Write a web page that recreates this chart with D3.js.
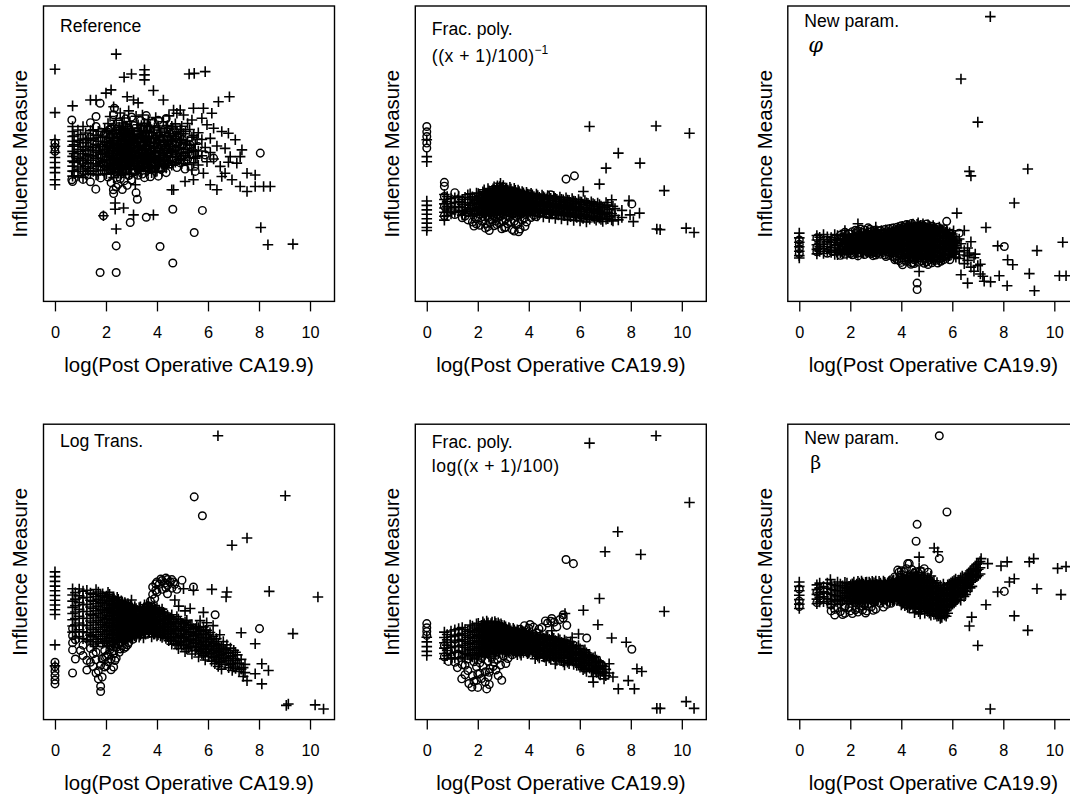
<!DOCTYPE html>
<html>
<head>
<meta charset="utf-8">
<script src="https://cdn.jsdelivr.net/npm/d3@7"></script>
<style>
  html, body { margin: 0; padding: 0; background: #fff; }
  svg { display: block; }
  text { font-family: "Liberation Sans", Arial, Helvetica, sans-serif; fill: #000; }
</style>
</head>
<body>
<svg id="chart" width="1070" height="795"></svg>
<script>
// Influence of each patient on six model fits, plotted against log(post-operative CA19.9).
// Each row is one x position followed by the influence values (0-100 scale) observed there.
// "+" = event, "o" = censored.

const xTicks = [0, 2, 4, 6, 8, 10];
const xLabel = "log(Post Operative CA19.9)";
const yLabel = "Influence Measure";
const panelNames = ["Reference", "Frac. poly.", "New param.", "Log Trans.", "Frac. poly.", "New param."];

// ---- Reference ----
const refPlus = [
  [0, 78.6, 63.9, 54.7, 52.5, 50.4, 48.7, 47.0, 45.3, 43.6, 41.2, 39.5],
  [0.69, 66.2, 59.2, 57.5, 55.8, 54.2, 52.5, 50.8, 49.1, 47.5, 45.8, 44.1, 42.4],
  [1.1, 59.2, 55.0, 52.3, 50.0, 48.2, 46.5, 44.0, 42.0],
  [1.39, 68.2, 57.8, 54.6, 51.2, 49.5, 47.8, 45.0, 43.2],
  [1.61, 68.2, 56.3, 53.2, 50.6, 48.5, 46.2, 42.8],
  [1.79, 55.5, 52.4, 49.8, 47.3, 44.5],
  [1.9, 29.0],
  [1.95, 58.4, 54.1, 51.3, 48.0, 45.6, 43.1],
  [2.0, 70.5],
  [2.08, 60.2, 55.4, 52.8, 50.1, 47.7, 44.8],
  [2.16, 62.6],
  [2.2, 71.6, 57.8, 53.5, 49.5, 46.8, 43.5],
  [2.3, 65.9, 59.6, 55.2, 51.7, 48.3, 45.1, 41.9],
  [2.36, 33.3, 31.2],
  [2.4, 83.7, 61.3, 56.9, 52.6, 49.4, 46.2, 24.5],
  [2.48, 58.1, 54.4, 50.8, 47.1, 43.6],
  [2.56, 63.8, 57.2, 53.3, 49.8, 46.5, 42.7],
  [2.64, 60.4, 55.7, 51.9, 48.6, 45.3],
  [2.69, 31.6],
  [2.71, 75.9, 62.1, 56.3, 52.4, 49.2, 44.7],
  [2.77, 59.3, 54.8, 50.5, 47.9, 43.4],
  [2.83, 69.3, 57.8, 53.1, 49.7, 46.1],
  [2.89, 64.5, 55.9, 51.6, 48.8, 45.0],
  [2.94, 60.9, 54.2, 50.3, 47.4],
  [3.0, 77.0, 58.6, 53.7, 49.9, 46.8, 43.3],
  [3.08, 68.2, 56.4, 52.2, 48.4, 29.3],
  [3.15, 39.5],
  [3.18, 62.7, 55.1, 51.0, 47.5, 44.6],
  [3.26, 67.2, 59.8, 53.9, 49.1, 45.9],
  [3.35, 57.6, 52.7, 48.3, 44.1],
  [3.43, 63.1, 55.5, 51.4, 47.2],
  [3.51, 78.4, 76.7, 75.0, 60.3, 54.8, 50.2, 46.5],
  [3.58, 57.9, 52.9, 49.3],
  [3.66, 61.5, 55.8, 51.1, 47.9, 44.3],
  [3.74, 59.1, 53.6, 49.6, 45.8],
  [3.86, 71.4, 57.1, 52.3, 48.7, 29.3],
  [3.95, 62.2, 55.4, 50.7, 46.9, 43.8],
  [4.05, 59.4, 53.8, 49.5, 45.6],
  [4.15, 57.2, 52.6, 48.2],
  [4.25, 68.2, 60.8, 54.5, 50.1, 46.3],
  [4.36, 58.6, 53.1, 49.4, 45.2],
  [4.47, 62.8, 56.2, 51.8, 47.6],
  [4.58, 59.3, 54.6, 50.4, 46.1, 37.8],
  [4.65, 64.8, 55.9, 37.8],
  [4.78, 63.7, 57.4, 52.8, 49.1],
  [4.91, 64.8, 58.2, 53.9, 48.3],
  [5.04, 63.1, 56.8, 51.5, 47.8],
  [5.1, 40.6],
  [5.2, 60.2, 54.3, 50.5, 46.4],
  [5.26, 77.0],
  [5.37, 61.4, 55.6, 51.2, 44.5],
  [5.43, 65.4, 41.2],
  [5.46, 77.2],
  [5.5, 53.2, 48.5],
  [5.62, 57.1, 50.9, 46.2],
  [5.76, 62.0, 54.8, 49.3],
  [5.82, 65.4, 43.4],
  [5.89, 77.8, 52.1],
  [5.96, 59.8, 47.3],
  [6.09, 39.5, 55.2, 50.4],
  [6.15, 63.7],
  [6.22, 58.6, 48.2],
  [6.35, 37.8, 52.6],
  [6.41, 67.6],
  [6.48, 45.7],
  [6.54, 57.5, 42.3],
  [6.67, 43.4, 51.8],
  [6.8, 56.9, 47.1],
  [6.84, 69.3],
  [6.87, 49.0],
  [6.94, 41.2],
  [7.07, 54.7],
  [7.13, 46.8],
  [7.26, 49.0, 38.9],
  [7.33, 51.3],
  [7.53, 37.2, 43.4],
  [7.85, 42.8, 38.9],
  [8.07, 25.0],
  [8.18, 38.9],
  [8.35, 19.2],
  [8.44, 38.9],
  [9.33, 19.4],
  [0.75, 56.0, 53.0, 50.0, 47.0, 44.0],
  [0.9, 58.0, 54.5, 51.5, 48.5, 45.5, 42.5],
  [1.0, 56.5, 53.8, 50.8, 47.6, 44.8],
  [1.2, 57.0, 53.7, 51.0, 48.9, 45.6, 43.1],
  [1.3, 55.2, 52.5, 49.8, 46.9, 44.2],
  [1.5, 58.1, 55.1, 52.0, 49.2, 46.7, 44.0],
  [1.7, 57.6, 54.2, 51.1, 48.4, 45.8, 43.0],
  [1.87, 56.0, 53.2, 50.6, 47.1, 44.3],
  [2.02, 57.4, 54.0, 51.4, 48.9, 46.0, 43.2],
  [2.14, 55.6, 52.1, 49.0, 45.7],
  [2.25, 56.7, 54.4, 50.9, 47.7, 44.6],
  [2.35, 57.9, 53.6, 50.2, 47.0, 43.9],
  [2.44, 55.2, 51.6, 48.0, 44.8],
  [2.52, 59.0, 55.8, 52.0, 48.8, 45.4],
  [2.6, 56.6, 53.0, 49.6, 46.3, 43.1],
  [2.67, 58.6, 54.1, 50.6, 47.3],
  [2.74, 57.1, 53.4, 50.0, 46.2],
  [2.8, 55.6, 52.2, 48.5, 44.9],
  [2.86, 58.4, 54.6, 50.9, 47.6],
  [2.91, 56.9, 53.0, 49.4, 46.0, 43.0],
  [2.97, 55.6, 51.9, 48.3, 44.8],
  [3.04, 57.8, 54.6, 50.7, 47.5],
  [3.13, 56.0, 52.7, 49.3, 45.6],
  [3.22, 58.6, 54.0, 50.4, 46.7, 43.4],
  [3.3, 56.6, 52.4, 48.6, 45.1],
  [3.39, 59.5, 55.2, 50.1, 46.5],
  [3.47, 57.3, 52.8, 49.0, 45.4],
  [3.55, 55.9, 51.7, 47.8, 44.2],
  [3.62, 59.6, 54.0, 50.2, 46.3],
  [3.7, 57.0, 52.5, 48.4, 44.9],
  [3.79, 55.1, 51.0, 47.2, 43.6],
  [3.9, 58.8, 53.4, 49.0, 45.3],
  [4.0, 56.3, 51.9, 47.6, 44.1],
  [4.1, 58.0, 54.5, 50.3, 46.4],
  [4.2, 55.7, 51.2, 47.4, 44.0],
  [4.3, 57.3, 52.4, 48.7, 45.8],
  [4.41, 59.5, 54.3, 50.1, 46.6],
  [4.52, 56.8, 52.5, 48.8],
  [4.62, 58.7, 54.0, 50.7, 46.9],
  [4.72, 60.1, 55.2, 51.0, 47.1],
  [4.85, 56.7, 52.2, 48.0],
  [4.97, 59.3, 54.7, 50.2, 46.6],
  [5.12, 57.6, 53.3, 49.3],
  [5.28, 58.2, 52.9, 48.6],
  [5.44, 56.2, 50.8, 46.9],
  [5.57, 55.0, 49.0]
];
const refCirc = [
  [0, 53.6, 52.2, 50.8],
  [0.66, 61.4, 41.2],
  [0.69, 40.6],
  [1.1, 53.5, 47.2, 41.3],
  [1.39, 60.5, 55.6, 44.3, 40.5],
  [1.6, 38.0],
  [1.61, 62.6, 59.2, 51.5],
  [1.77, 67.1, 9.8],
  [1.79, 57.3, 48.9, 45.5, 41.8],
  [1.9, 29.0],
  [1.95, 56.8, 50.3],
  [2.08, 53.9, 46.4, 42.1],
  [2.2, 58.5, 51.2, 44.9, 40.2],
  [2.29, 37.8],
  [2.3, 63.2, 54.3, 47.6, 36.5],
  [2.33, 65.4],
  [2.4, 50.6, 43.8, 38.7, 18.8, 9.8],
  [2.48, 60.7, 52.0, 45.9, 39.6],
  [2.56, 55.9, 48.7, 41.5],
  [2.64, 58.2, 50.1, 44.4, 37.9],
  [2.71, 53.7, 46.9, 40.8],
  [2.77, 61.8, 56.5, 48.2],
  [2.83, 51.4, 44.2, 39.3],
  [2.89, 58.8, 47.3, 42.6],
  [2.94, 55.3, 45.7],
  [2.95, 26.7],
  [3.0, 62.4, 51.8, 41.1],
  [3.09, 59.5, 47.8, 43.9],
  [3.18, 57.4, 49.6, 36.8],
  [3.23, 34.6],
  [3.26, 54.6, 42.7],
  [3.35, 61.2, 50.9, 46.3],
  [3.43, 58.1, 53.2, 43.1],
  [3.51, 56.6, 48.1, 41.9],
  [3.58, 62.9, 54.1, 45.2, 28.5],
  [3.66, 58.7, 50.4],
  [3.74, 56.3, 47.4, 42.2],
  [3.86, 60.6, 54.9, 44.8],
  [3.95, 58.2, 49.2],
  [4.05, 61.3, 51.6, 47.3, 42.4],
  [4.12, 18.6],
  [4.15, 55.1, 44.7],
  [4.25, 57.8, 48.9],
  [4.36, 61.9, 51.3, 43.6],
  [4.47, 54.4, 49.8],
  [4.58, 57.1, 52.2],
  [4.62, 31.2, 13.0],
  [4.65, 48.6],
  [4.78, 55.8, 45.3],
  [4.91, 55.8, 50.6, 46.9],
  [5.04, 53.2, 49.4],
  [5.1, 44.8],
  [5.2, 52.8, 48.1],
  [5.37, 49.8],
  [5.46, 23.3],
  [5.5, 44.0],
  [5.62, 52.4],
  [5.78, 30.8],
  [5.89, 49.6],
  [6.22, 48.5],
  [8.05, 50.2],
  [0.8, 49.2, 43.3],
  [1.25, 50.4, 46.0],
  [1.55, 54.0, 47.9],
  [1.9, 52.6, 46.4],
  [2.12, 58.0, 50.0],
  [2.27, 52.1, 45.3],
  [2.45, 56.8, 48.4],
  [2.62, 52.3, 46.0],
  [2.8, 58.9, 50.3],
  [2.98, 54.0, 48.0],
  [3.14, 52.0, 44.0],
  [3.3, 55.6, 49.8],
  [3.45, 51.0, 45.9],
  [3.62, 52.4, 47.6],
  [3.8, 51.5, 46.0],
  [4.0, 54.2],
  [4.2, 52.6, 46.8],
  [4.4, 55.7, 48.0],
  [4.6, 53.6, 47.6],
  [4.8, 51.2],
  [5.0, 54.8, 50.6],
  [5.3, 53.0]
];

// ---- Fractional polynomial, power -1 ----
const fpInvPlus = [
  [0, 54.7, 49.0, 47.3, 34.0, 32.5, 31.0, 29.5, 28.0, 26.5, 25.0, 24.0],
  [0.69, 36.2, 34.5, 33.0, 31.6, 30.2, 28.8, 27.5],
  [1.1, 35.1, 33.4, 31.8, 30.1],
  [1.39, 34.6, 32.9, 30.8, 29.2],
  [1.61, 36.1, 33.5, 31.2],
  [1.79, 35.4, 33.1, 30.6, 28.9],
  [1.95, 36.7, 34.2, 31.9, 29.8],
  [2.08, 35.8, 33.6, 31.4],
  [2.2, 37.1, 34.8, 32.5, 30.4],
  [2.3, 36.3, 33.9, 31.7, 29.5],
  [2.4, 38.2, 35.6, 33.2, 30.9],
  [2.48, 36.9, 34.3, 32.0],
  [2.56, 37.6, 35.2, 33.0, 30.6],
  [2.64, 38.8, 36.1, 33.7, 31.2],
  [2.71, 37.3, 34.9, 32.4],
  [2.77, 39.1, 36.5, 34.1, 31.8, 29.6],
  [2.83, 37.9, 35.4, 32.8],
  [2.89, 40.0, 37.2, 34.6, 32.3, 30.1],
  [2.94, 38.4, 35.8, 33.5],
  [3.0, 39.2, 36.8, 34.2, 31.9],
  [3.09, 38.0, 35.3, 32.9, 30.5],
  [3.18, 37.4, 34.9, 32.6],
  [3.26, 38.6, 36.0, 33.4, 31.0],
  [3.35, 37.1, 34.7, 32.2],
  [3.43, 38.3, 35.5, 33.1, 30.8],
  [3.51, 36.8, 34.4, 32.0],
  [3.58, 37.7, 35.1, 32.7, 30.3],
  [3.66, 36.4, 34.0, 31.6],
  [3.74, 37.2, 34.8, 32.3],
  [3.83, 36.1, 33.7, 31.3],
  [3.91, 36.9, 34.5, 32.1, 29.8],
  [4.0, 35.8, 33.4, 31.0],
  [4.09, 36.6, 34.1, 31.8],
  [4.2, 35.5, 33.2, 30.8],
  [4.3, 36.3, 33.9, 31.5],
  [4.41, 35.2, 32.9, 30.6],
  [4.52, 36.0, 33.6, 31.2],
  [4.62, 35.1, 32.7, 30.3],
  [4.74, 35.8, 33.3, 31.0],
  [4.86, 34.9, 32.5, 30.2],
  [4.98, 35.6, 33.1, 30.8],
  [5.1, 34.6, 32.3, 30.0],
  [5.22, 35.3, 32.9, 30.5],
  [5.35, 34.4, 32.0, 29.8],
  [5.46, 35.1, 32.6, 30.2],
  [5.58, 34.2, 31.8, 29.5],
  [5.7, 34.8, 32.3, 30.0],
  [5.82, 33.9, 31.5, 29.2],
  [5.95, 34.5, 32.0, 29.6],
  [6.07, 33.6, 31.2, 28.8],
  [6.14, 37.2],
  [6.2, 34.1, 31.7, 29.3],
  [6.32, 33.2, 30.8, 28.5],
  [6.38, 59.2],
  [6.45, 33.7, 31.3, 28.9],
  [6.58, 32.8, 30.4, 28.1],
  [6.7, 33.3, 30.9, 28.6],
  [6.77, 39.7],
  [6.83, 32.3, 30.0, 27.7],
  [6.96, 31.9, 29.5],
  [7.03, 45.1],
  [7.1, 32.6, 30.2, 28.0],
  [7.25, 34.4, 29.7, 27.6],
  [7.38, 31.4, 29.1],
  [7.51, 50.2, 27.6],
  [7.65, 30.8, 28.4],
  [7.93, 34.1],
  [7.97, 29.3],
  [8.1, 27.0],
  [8.34, 29.9],
  [8.36, 46.8],
  [8.99, 59.4],
  [9.02, 24.5],
  [9.15, 24.3],
  [9.31, 37.5],
  [10.17, 24.8],
  [10.3, 56.9],
  [10.48, 23.3],
  [0.8, 35.5, 33.8, 32.2, 30.6, 29.0],
  [0.95, 34.8, 33.1, 31.3, 29.6],
  [1.25, 35.6, 33.9, 32.1, 30.4],
  [1.5, 35.2, 33.4, 31.7, 29.9],
  [1.7, 36.4, 34.5, 32.6, 30.5],
  [1.87, 35.0, 33.2, 31.4, 29.4],
  [2.02, 36.5, 34.6, 32.7, 30.7],
  [2.14, 35.2, 33.3, 31.3, 29.2],
  [2.25, 37.8, 35.9, 34.0, 32.1, 30.2],
  [2.35, 36.6, 34.6, 32.5, 30.4],
  [2.44, 37.4, 35.3, 33.3, 31.2, 29.2],
  [2.52, 36.2, 34.1, 32.0, 29.9],
  [2.6, 38.1, 35.9, 33.7, 31.5, 29.4],
  [2.67, 36.9, 34.7, 32.5, 30.3],
  [2.74, 38.4, 36.2, 34.0, 31.8, 29.6],
  [2.8, 37.3, 35.1, 32.9, 30.7],
  [2.86, 38.9, 36.6, 34.3, 32.0, 29.7],
  [2.91, 37.5, 35.2, 33.0, 30.8],
  [2.97, 38.6, 36.3, 34.0, 31.7, 29.4],
  [3.04, 37.5, 35.2, 32.9, 30.6],
  [3.13, 38.4, 36.1, 33.8, 31.5, 29.2],
  [3.22, 37.1, 34.8, 32.5, 30.2],
  [3.3, 38.0, 35.7, 33.4, 31.1, 28.8],
  [3.39, 36.6, 34.3, 32.0, 29.7],
  [3.47, 37.6, 35.3, 33.0, 30.7],
  [3.55, 36.3, 34.0, 31.7, 29.4],
  [3.62, 37.2, 34.9, 32.6, 30.3],
  [3.7, 35.9, 33.6, 31.3, 29.0],
  [3.79, 36.8, 34.5, 32.2, 29.9],
  [3.87, 35.6, 33.3, 31.0],
  [3.95, 36.3, 34.0, 31.7, 29.4],
  [4.04, 35.3, 33.0, 30.7],
  [4.14, 36.1, 33.8, 31.5, 29.2],
  [4.25, 34.9, 32.6, 30.3],
  [4.35, 35.8, 33.5, 31.2, 28.9],
  [4.46, 34.7, 32.4, 30.1],
  [4.57, 35.5, 33.2, 30.9, 28.6],
  [4.68, 34.4, 32.1, 29.8],
  [4.8, 35.2, 32.9, 30.6, 28.4],
  [4.92, 34.2, 31.9, 29.6],
  [5.04, 34.9, 32.6, 30.3, 28.1],
  [5.16, 33.9, 31.6, 29.3],
  [5.28, 34.6, 32.3, 30.0, 27.9],
  [5.4, 33.6, 31.3, 29.0],
  [5.52, 34.3, 32.0, 29.7, 27.6],
  [5.64, 33.3, 31.0, 28.7],
  [5.76, 34.0, 31.7, 29.4, 27.4],
  [5.88, 33.0, 30.7, 28.4],
  [6.01, 33.7, 31.4, 29.1, 27.2],
  [6.13, 32.7, 30.4, 28.1],
  [6.26, 33.4, 31.1, 28.8, 26.9],
  [6.39, 32.4, 30.1, 27.8],
  [6.52, 33.1, 30.8, 28.5],
  [6.64, 32.1, 29.8, 27.5],
  [6.77, 32.8, 30.5, 28.2],
  [6.9, 31.6, 29.3, 27.1],
  [7.03, 33.5, 29.9, 27.8],
  [7.17, 31.1, 28.6],
  [7.3, 32.2, 27.2]
];
const fpInvCirc = [
  [0, 59.2, 57.4, 55.8, 53.6, 51.9],
  [0.69, 40.3, 39.0, 35.5, 32.2, 29.0],
  [1.1, 36.8, 29.4],
  [1.39, 31.5, 28.3],
  [1.61, 34.0, 30.1, 27.6],
  [1.79, 32.4, 26.9],
  [1.95, 33.3, 28.1, 26.2],
  [2.08, 34.7, 29.6, 25.8],
  [2.2, 33.8, 28.7],
  [2.3, 35.4, 30.9, 26.4, 24.8],
  [2.4, 32.1, 28.4, 25.3],
  [2.48, 35.1, 29.9, 26.8],
  [2.56, 31.6, 27.7],
  [2.64, 34.5, 29.1, 25.6],
  [2.71, 35.9, 30.3, 27.2],
  [2.77, 33.0, 28.2],
  [2.83, 36.6, 30.7, 26.5],
  [2.89, 35.0, 28.9],
  [2.94, 31.2, 27.4, 24.6],
  [3.0, 33.6, 29.3],
  [3.09, 36.2, 27.9, 25.1],
  [3.18, 35.6, 30.1, 26.3],
  [3.26, 34.3, 28.6],
  [3.35, 36.9, 29.7, 24.3],
  [3.43, 31.9, 27.1, 23.8],
  [3.51, 35.2, 28.8, 25.9],
  [3.58, 33.9, 26.4],
  [3.66, 35.7, 29.4, 24.5],
  [3.74, 30.9, 27.6],
  [3.83, 34.6, 28.3],
  [3.91, 33.2, 26.9],
  [4.0, 36.4, 29.9],
  [4.09, 32.7, 28.4],
  [4.2, 34.8, 29.2],
  [4.3, 32.4, 28.7],
  [4.41, 34.1, 29.8],
  [4.52, 32.8, 30.1],
  [4.62, 33.9],
  [4.74, 32.2, 29.4],
  [4.86, 36.1],
  [4.98, 32.0, 29.6],
  [5.1, 33.5],
  [5.22, 31.7],
  [5.35, 33.2, 30.4],
  [5.46, 41.4],
  [5.58, 32.9],
  [5.79, 42.5],
  [5.82, 32.4],
  [6.07, 30.6],
  [6.58, 31.5],
  [8.04, 33.0],
  [1.0, 31.0],
  [1.5, 28.9],
  [1.85, 30.0, 25.5],
  [2.15, 31.7, 27.2],
  [2.45, 30.5, 24.0],
  [2.75, 32.4, 26.0],
  [3.05, 31.1, 24.9],
  [3.3, 32.6, 27.0],
  [3.6, 31.5, 23.6],
  [3.85, 30.2, 25.4],
  [4.15, 30.9],
  [4.45, 31.5],
  [4.7, 30.7]
];

// ---- New parameterisation, phi ----
const phiPlus = [
  [0, 23.1, 21.5, 20.0, 18.5, 17.0, 15.5, 14.7],
  [0.69, 22.3, 20.8, 19.2, 17.6, 16.1],
  [1.1, 21.9, 20.2, 18.6, 17.0],
  [1.39, 22.6, 20.9, 19.1, 17.4, 15.9],
  [1.61, 21.4, 19.8, 18.1, 16.5],
  [1.79, 24.0, 22.1, 20.3, 18.7, 17.0],
  [1.95, 21.7, 20.0, 18.4, 16.7],
  [2.08, 22.5, 20.7, 19.0, 17.3],
  [2.2, 21.8, 20.1, 18.3, 16.6],
  [2.3, 26.3, 22.8, 21.0, 19.4, 17.7, 16.2],
  [2.4, 22.2, 20.5, 18.8, 17.1],
  [2.48, 21.6, 19.9, 18.2, 16.6],
  [2.56, 22.7, 21.0, 19.3, 17.6],
  [2.64, 21.9, 20.2, 18.5, 16.9],
  [2.71, 23.3, 21.5, 19.7, 18.0],
  [2.77, 22.0, 20.3, 18.6, 16.8],
  [2.83, 22.8, 21.0, 19.4, 17.6],
  [2.89, 21.7, 20.0, 18.3],
  [2.94, 23.0, 21.3, 19.5, 17.9],
  [3.0, 25.2, 22.2, 20.4, 18.7, 17.0],
  [3.09, 21.8, 20.1, 18.4, 16.7],
  [3.18, 22.6, 20.9, 19.1, 17.4],
  [3.26, 21.9, 20.2, 18.5, 16.8],
  [3.35, 22.9, 21.1, 19.3, 17.6],
  [3.43, 22.1, 20.4, 18.7, 16.9],
  [3.51, 23.2, 21.4, 19.6, 17.9],
  [3.58, 22.4, 20.7, 18.9, 17.2],
  [3.66, 23.5, 21.7, 19.9, 18.1],
  [3.74, 22.7, 20.9, 19.2, 17.4],
  [3.83, 24.2, 22.3, 20.5, 18.6, 16.8],
  [3.91, 23.6, 21.8, 19.9, 18.1],
  [4.0, 24.9, 23.0, 21.1, 19.2, 17.3],
  [4.09, 24.3, 22.4, 20.6, 18.7, 16.9],
  [4.2, 25.4, 23.5, 21.6, 19.7, 17.8],
  [4.3, 24.8, 22.9, 21.0, 19.1, 17.2, 15.3],
  [4.41, 25.9, 23.9, 22.0, 20.1, 18.2, 16.3],
  [4.51, 25.3, 23.4, 21.5, 19.6, 17.7, 15.8],
  [4.62, 26.1, 24.2, 22.3, 20.4, 18.5, 16.6],
  [4.7, 25.4, 23.5, 21.5, 19.6, 17.6, 15.7, 10.1],
  [4.8, 24.8, 22.8, 20.9, 18.9, 17.0, 15.1],
  [4.9, 25.6, 23.7, 21.7, 19.8, 17.8, 15.9],
  [5.0, 24.9, 22.9, 21.0, 19.0, 17.1, 15.2],
  [5.1, 25.3, 23.3, 21.3, 19.4, 17.4, 15.5],
  [5.2, 24.6, 22.6, 20.7, 18.7, 16.8, 14.9],
  [5.3, 25.0, 23.0, 21.0, 19.1, 17.2, 15.3],
  [5.43, 24.1, 22.1, 20.2, 18.3, 16.4],
  [5.55, 24.5, 22.5, 20.5, 18.6, 16.7, 14.8],
  [5.67, 23.7, 21.8, 19.8, 17.9, 16.0],
  [5.78, 24.2, 22.2, 20.2, 18.3],
  [5.9, 23.2, 21.3, 19.3, 17.4, 15.5],
  [6.0, 22.8, 20.8, 18.9, 16.9],
  [6.1, 21.9, 19.9, 17.9, 16.0],
  [6.18, 29.9, 20.6, 18.2],
  [6.27, 21.1, 16.8, 14.5],
  [6.34, 75.3, 19.5, 9.0],
  [6.47, 24.0, 17.2, 15.7, 12.8],
  [6.6, 18.1, 15.4, 13.9, 6.2],
  [6.67, 44.0, 16.4],
  [6.73, 42.5, 20.2, 11.6],
  [6.85, 14.8, 10.2],
  [6.9, 16.0],
  [7.0, 60.7, 12.1],
  [7.1, 12.6, 9.3],
  [7.2, 8.5],
  [7.25, 6.8],
  [7.32, 25.0],
  [7.49, 96.4],
  [7.5, 6.6],
  [7.78, 18.8],
  [7.84, 8.7],
  [8.15, 5.3],
  [8.17, 14.1],
  [8.37, 12.4],
  [8.43, 33.3],
  [8.96, 44.8],
  [9.02, 9.4],
  [9.22, 3.6],
  [9.32, 17.2],
  [10.2, 8.7],
  [10.33, 20.0],
  [10.46, 8.7],
  [0.8, 21.7, 20.1, 18.5, 16.9],
  [0.95, 22.6, 21.0, 19.4, 17.8, 16.2],
  [1.25, 21.6, 20.0, 18.3, 16.6],
  [1.5, 22.3, 20.6, 18.9, 17.2, 15.8],
  [1.7, 21.0, 19.4, 17.7, 16.1],
  [1.87, 22.7, 21.0, 19.3, 17.6, 16.0],
  [2.02, 21.4, 19.7, 18.0, 16.4],
  [2.14, 22.8, 21.1, 19.5, 17.8],
  [2.25, 21.5, 19.8, 18.1, 16.4],
  [2.35, 23.0, 21.3, 19.6, 17.9],
  [2.44, 21.8, 20.1, 18.4, 16.7],
  [2.52, 23.1, 21.4, 19.7, 18.0, 16.3],
  [2.6, 22.1, 20.4, 18.7, 17.0],
  [2.67, 23.4, 21.7, 20.0, 18.3, 16.6],
  [2.74, 22.3, 20.6, 18.9, 17.2],
  [2.8, 23.5, 21.8, 20.1, 18.4, 16.7],
  [2.86, 22.4, 20.7, 19.0, 17.3],
  [2.91, 23.7, 22.0, 20.3, 18.6, 16.9],
  [2.97, 22.6, 20.9, 19.2, 17.5],
  [3.04, 23.9, 22.1, 20.4, 18.7, 17.0],
  [3.13, 22.8, 21.0, 19.3, 17.6],
  [3.22, 24.0, 22.2, 20.5, 18.8, 17.1],
  [3.3, 23.0, 21.2, 19.5, 17.8],
  [3.39, 24.2, 22.4, 20.6, 18.9, 17.2],
  [3.47, 23.1, 21.3, 19.5, 17.8],
  [3.55, 24.4, 22.6, 20.8, 19.0, 17.3],
  [3.62, 23.4, 21.6, 19.8, 18.0, 16.3],
  [3.7, 24.6, 22.8, 21.0, 19.2, 17.4],
  [3.79, 23.8, 21.9, 20.1, 18.3, 16.5],
  [3.87, 25.0, 23.1, 21.2, 19.4, 17.6, 15.8],
  [3.95, 24.1, 22.2, 20.4, 18.5, 16.6],
  [4.04, 25.4, 23.5, 21.6, 19.7, 17.8, 15.9],
  [4.14, 24.6, 22.7, 20.8, 18.9, 17.0, 15.1],
  [4.25, 25.7, 23.8, 21.9, 20.0, 18.1, 16.2],
  [4.35, 24.9, 23.0, 21.1, 19.2, 17.3, 15.4, 13.8],
  [4.46, 26.2, 24.3, 22.4, 20.5, 18.6, 16.7, 14.7],
  [4.57, 25.0, 23.1, 21.1, 19.1, 17.2, 15.2, 13.6],
  [4.66, 26.6, 24.6, 22.6, 20.7, 18.8, 16.9, 14.9],
  [4.75, 25.8, 23.9, 21.9, 20.0, 18.0, 16.1, 14.3],
  [4.85, 26.3, 24.3, 22.3, 20.3, 18.4, 16.4, 14.6],
  [4.95, 25.1, 23.2, 21.2, 19.3, 17.3, 15.4, 13.5],
  [5.05, 25.9, 23.9, 22.0, 20.0, 18.1, 16.1, 14.3],
  [5.15, 24.8, 22.9, 20.9, 19.0, 17.0, 15.1],
  [5.25, 25.7, 23.7, 21.8, 19.8, 17.9, 15.9, 14.0],
  [5.36, 24.5, 22.5, 20.6, 18.6, 16.7, 14.7],
  [5.49, 25.2, 23.2, 21.3, 19.3, 17.4, 15.4, 13.5],
  [5.61, 24.0, 22.0, 20.1, 18.1, 16.2, 14.3],
  [5.73, 23.4, 21.4, 19.5, 17.5, 15.6],
  [5.84, 22.7, 20.7, 18.8, 16.8, 14.9],
  [5.95, 21.5, 19.6, 17.6, 15.7],
  [6.05, 23.9, 20.3, 18.4, 16.4],
  [6.14, 19.0, 17.0, 15.0]
];
const phiCirc = [
  [0, 20.8, 19.3, 17.8, 16.2],
  [0.69, 21.5, 18.4, 16.8],
  [1.1, 19.7, 16.3],
  [1.39, 21.2, 18.2],
  [1.61, 22.4, 17.3, 15.6],
  [1.79, 23.4, 19.5, 16.0],
  [1.95, 22.9, 17.8],
  [2.08, 23.6, 18.6, 15.8],
  [2.2, 24.1, 19.3],
  [2.3, 23.9, 18.0, 15.4],
  [2.4, 24.5, 19.9, 16.4],
  [2.48, 23.3, 17.5],
  [2.56, 24.2, 18.9, 15.9],
  [2.64, 23.0, 17.7],
  [2.71, 22.1, 16.5],
  [2.77, 24.4, 19.2],
  [2.83, 23.6, 16.2],
  [2.89, 22.5, 17.3, 15.5],
  [2.94, 24.1, 16.7],
  [3.0, 23.5, 19.6, 15.7],
  [3.09, 22.9, 17.9],
  [3.18, 24.0, 18.5, 16.0],
  [3.26, 23.2, 17.2],
  [3.35, 24.3, 18.8, 15.8],
  [3.43, 23.6, 17.6],
  [3.51, 24.6, 18.3, 15.6],
  [3.58, 23.4, 16.4],
  [3.66, 24.8, 17.5, 15.2],
  [3.74, 23.9, 16.6, 14.9],
  [3.83, 25.1, 15.4, 14.2],
  [3.91, 24.7, 16.3, 13.8],
  [4.0, 25.6, 15.6, 13.2],
  [4.05, 12.4],
  [4.09, 25.2, 14.7],
  [4.2, 26.0, 15.9, 13.6],
  [4.3, 25.7, 14.4],
  [4.41, 26.4, 14.8, 13.1],
  [4.51, 14.1, 12.8],
  [4.62, 14.5, 6.2, 4.0],
  [4.8, 25.9, 13.7],
  [4.9, 14.3, 12.9],
  [5.0, 26.2, 13.4],
  [5.1, 14.2],
  [5.2, 25.4, 13.1],
  [5.3, 14.6],
  [5.43, 25.1, 13.0],
  [5.55, 13.6],
  [5.67, 24.6, 15.1],
  [5.78, 27.1, 16.9],
  [5.9, 14.1],
  [6.27, 23.1],
  [8.04, 18.6],
  [0.85, 19.8, 17.4],
  [1.3, 20.3, 16.9],
  [1.7, 18.4, 21.6],
  [2.0, 20.9, 16.2],
  [2.35, 20.0, 22.5],
  [2.7, 24.9, 19.0],
  [3.05, 21.0, 16.3],
  [3.4, 19.9, 15.2],
  [3.75, 21.8, 14.1],
  [4.1, 13.9],
  [4.38, 12.6],
  [4.7, 13.3],
  [5.05, 12.5],
  [5.35, 13.9],
  [5.65, 14.1]
];

// ---- Log transformation ----
const logPlus = [
  [0, 50.0, 48.4, 46.8, 45.2, 43.6, 42.0, 40.4, 38.8, 37.2, 35.6, 25.3, 18.2],
  [0.69, 44.3, 42.2, 40.1, 38.0, 35.9, 33.8, 31.7, 29.6],
  [1.1, 43.5, 41.2, 38.9, 36.6, 34.3, 32.0, 29.7, 27.4],
  [1.39, 42.8, 40.4, 38.1, 35.7, 33.4, 31.0, 28.6, 26.3],
  [1.61, 44.0, 41.6, 39.2, 36.8, 34.4, 32.0, 29.6, 27.2, 24.8],
  [1.79, 42.1, 39.6, 37.2, 34.7, 32.3, 29.8, 27.4],
  [1.95, 41.3, 38.8, 36.3, 33.8, 31.3, 28.8, 26.3],
  [2.08, 43.1, 40.5, 37.9, 35.3, 32.7, 30.1, 27.5, 24.9],
  [2.2, 40.2, 37.7, 35.2, 32.7, 30.2, 27.7],
  [2.3, 41.6, 39.0, 36.4, 33.8, 31.2, 28.6, 26.0],
  [2.4, 39.4, 36.9, 34.4, 31.9, 29.4, 26.9],
  [2.48, 40.7, 38.1, 35.5, 32.9, 30.3, 27.7],
  [2.56, 38.9, 36.3, 33.7, 31.1, 28.5],
  [2.64, 39.8, 37.3, 34.8, 32.3, 29.8, 27.3],
  [2.71, 38.4, 35.9, 33.4, 30.9, 28.4],
  [2.77, 39.2, 36.7, 34.2, 31.7, 29.2],
  [2.83, 37.8, 35.3, 32.8, 30.3, 27.8],
  [2.89, 38.7, 36.2, 33.7, 31.2, 28.7],
  [2.94, 37.3, 34.8, 32.3, 29.8],
  [3.0, 40.5, 38.1, 35.6, 33.1, 30.6, 28.1],
  [3.09, 36.9, 34.5, 32.1, 29.7],
  [3.18, 37.6, 35.2, 32.8, 30.4, 28.0],
  [3.26, 36.5, 34.1, 31.7, 29.3],
  [3.35, 38.2, 35.8, 33.4, 31.0, 28.6],
  [3.43, 37.1, 34.8, 32.4, 30.0],
  [3.51, 38.9, 36.5, 34.1, 31.7, 29.3],
  [3.58, 37.7, 35.3, 32.9, 30.5],
  [3.66, 39.4, 37.0, 34.6, 32.2, 29.8],
  [3.74, 38.1, 35.7, 33.3, 30.9],
  [3.83, 37.3, 34.9, 32.5, 30.1],
  [3.91, 38.6, 36.2, 33.8, 31.4, 29.0],
  [4.0, 37.9, 35.5, 33.1, 30.7, 28.3],
  [4.09, 36.8, 34.4, 32.0, 29.6],
  [4.2, 37.4, 35.0, 32.6, 30.2, 27.8],
  [4.3, 36.1, 33.7, 31.3, 28.9],
  [4.41, 35.3, 32.9, 30.5, 28.1],
  [4.52, 34.5, 32.1, 29.7, 27.3],
  [4.65, 33.8, 31.4, 29.0, 26.6],
  [4.7, 40.5],
  [4.78, 34.9, 32.5, 30.1, 27.7, 25.3],
  [4.85, 38.4],
  [4.91, 33.2, 30.8, 28.4, 26.0],
  [5.04, 44.3, 32.4, 30.0, 27.6, 25.2],
  [5.1, 36.8],
  [5.17, 33.6, 31.2, 28.8, 26.4, 24.0],
  [5.3, 37.6, 32.1, 29.7, 27.3, 24.9],
  [5.43, 43.8, 30.8, 28.4, 26.0],
  [5.56, 31.5, 29.1, 26.7, 24.3],
  [5.69, 33.5, 30.3, 27.9, 25.5, 23.1],
  [5.82, 36.3, 31.4, 29.0, 26.6, 24.2, 21.8],
  [5.95, 32.8, 30.2, 27.8, 25.4, 23.0],
  [6.08, 29.5, 27.1, 24.7, 22.3],
  [6.15, 44.1],
  [6.2, 31.8, 28.2, 25.8, 23.4, 21.0],
  [6.33, 27.4, 25.0, 22.6, 20.2],
  [6.39, 96.1],
  [6.46, 28.7, 24.1, 21.7, 19.3],
  [6.6, 26.4, 23.2, 20.8],
  [6.71, 41.5],
  [6.74, 43.2, 25.3, 22.5, 19.9],
  [6.88, 24.2, 21.4, 18.6],
  [6.94, 59.0],
  [7.01, 23.5, 20.7, 17.8],
  [7.15, 21.9, 19.1],
  [7.3, 29.4, 20.4, 17.1],
  [7.45, 18.7, 15.9],
  [7.53, 61.5, 13.2],
  [7.85, 25.7, 15.5],
  [8.11, 18.9, 12.1],
  [8.37, 16.6],
  [8.4, 43.4],
  [9.03, 75.8],
  [9.07, 4.8],
  [9.15, 5.3],
  [9.33, 29.1],
  [10.2, 5.0],
  [10.31, 41.5],
  [10.53, 3.6],
  [0.8, 43.0, 40.8, 38.6, 36.4, 34.2, 32.0, 29.8, 27.6],
  [0.95, 44.2, 41.9, 39.6, 37.3, 35.0, 32.7, 30.4, 28.1],
  [1.25, 43.8, 41.4, 39.0, 36.6, 34.2, 31.8, 29.4, 27.0],
  [1.5, 42.4, 40.0, 37.6, 35.2, 32.8, 30.4, 28.0, 25.6],
  [1.7, 43.2, 40.8, 38.4, 36.0, 33.6, 31.2, 28.8, 26.4],
  [1.87, 42.6, 40.2, 37.8, 35.4, 33.0, 30.6, 28.2, 25.8],
  [2.02, 41.8, 39.3, 36.8, 34.3, 31.8, 29.3, 26.8],
  [2.14, 42.4, 39.9, 37.4, 34.9, 32.4, 29.9, 27.4, 24.9],
  [2.25, 41.0, 38.5, 36.0, 33.5, 31.0, 28.5, 26.0],
  [2.35, 40.4, 37.9, 35.4, 32.9, 30.4, 27.9, 25.4],
  [2.44, 41.4, 38.9, 36.4, 33.9, 31.4, 28.9, 26.4],
  [2.52, 39.6, 37.1, 34.6, 32.1, 29.6, 27.1],
  [2.6, 40.2, 37.7, 35.2, 32.7, 30.2, 27.7],
  [2.67, 38.9, 36.4, 33.9, 31.4, 28.9, 26.4],
  [2.74, 39.6, 37.1, 34.6, 32.1, 29.6, 27.1],
  [2.8, 38.4, 35.9, 33.4, 30.9, 28.4],
  [2.86, 39.3, 36.8, 34.3, 31.8, 29.3, 26.8],
  [2.91, 38.0, 35.5, 33.0, 30.5, 28.0],
  [2.97, 38.8, 36.3, 33.8, 31.3, 28.8],
  [3.04, 37.5, 35.0, 32.5, 30.0, 27.5],
  [3.13, 38.3, 35.8, 33.3, 30.8, 28.3],
  [3.22, 37.0, 34.5, 32.0, 29.5],
  [3.3, 37.9, 35.4, 32.9, 30.4, 27.9],
  [3.39, 36.7, 34.2, 31.7, 29.2],
  [3.47, 37.6, 35.1, 32.6, 30.1, 27.6],
  [3.55, 36.4, 33.9, 31.4, 28.9],
  [3.62, 38.3, 35.8, 33.3, 30.8],
  [3.7, 36.9, 34.4, 31.9, 29.4],
  [3.79, 38.0, 35.5, 33.0, 30.5, 28.0],
  [3.87, 36.4, 33.9, 31.4, 28.9],
  [3.95, 37.3, 34.8, 32.3, 29.8],
  [4.04, 36.2, 33.7, 31.2, 28.7],
  [4.14, 35.8, 33.3, 30.8, 28.3],
  [4.25, 36.3, 33.8, 31.3, 28.8],
  [4.35, 35.0, 32.5, 30.0, 27.5],
  [4.46, 34.2, 31.7, 29.2, 26.7],
  [4.58, 35.5, 33.0, 30.5, 28.0, 25.5],
  [4.71, 33.2, 30.7, 28.2, 25.7],
  [4.84, 34.0, 31.5, 29.0, 26.5, 24.0],
  [4.97, 32.6, 30.1, 27.6, 25.1],
  [5.1, 33.0, 30.5, 28.0, 25.5, 23.0],
  [5.24, 31.8, 29.3, 26.8, 24.3],
  [5.37, 32.2, 29.7, 27.2, 24.7, 22.2],
  [5.5, 30.8, 28.3, 25.8, 23.3],
  [5.63, 31.2, 28.7, 26.2, 23.7, 21.2],
  [5.76, 29.8, 27.3, 24.8, 22.3],
  [5.89, 30.2, 27.7, 25.2, 22.7, 20.2],
  [6.02, 28.8, 26.3, 23.8, 21.3],
  [6.14, 27.3, 24.8, 22.3, 19.8],
  [6.27, 26.4, 23.9, 21.4, 18.9],
  [6.4, 25.5, 23.0, 20.5, 18.0],
  [6.53, 24.6, 22.1, 19.6, 17.1],
  [6.67, 23.7, 21.2, 18.7],
  [6.81, 22.6, 20.1, 17.6],
  [6.95, 21.6, 19.1, 16.6],
  [7.08, 22.8, 20.0, 17.3],
  [7.22, 19.0, 16.3],
  [7.38, 17.6, 14.6]
];
const logCirc = [
  [0, 19.4, 17.9, 16.4, 14.9, 13.4, 12.1],
  [0.69, 30.8, 28.4, 26.0, 23.6, 15.8],
  [1.1, 25.2, 21.7],
  [1.39, 27.8, 24.1, 19.4],
  [1.61, 22.9, 20.3, 15.8],
  [1.79, 25.9, 18.4, 11.3, 9.5],
  [1.95, 23.4, 21.2, 17.8],
  [2.08, 22.0, 19.6],
  [2.2, 25.1, 20.5, 16.9],
  [2.3, 23.3, 22.3, 17.8],
  [2.4, 24.4, 20.8],
  [2.48, 25.6],
  [2.56, 26.2, 23.9],
  [2.64, 25.0],
  [2.71, 26.8],
  [2.77, 27.5, 24.6],
  [2.89, 26.1],
  [2.94, 27.9],
  [3.0, 29.3],
  [3.18, 31.3],
  [3.35, 34.6],
  [3.51, 36.2],
  [3.66, 38.5],
  [3.74, 40.1],
  [3.83, 42.4, 44.9],
  [3.91, 41.0],
  [4.0, 46.6, 43.2],
  [4.09, 45.8],
  [4.2, 47.1, 44.1],
  [4.3, 46.2],
  [4.41, 47.4, 45.5, 42.6],
  [4.52, 46.6],
  [4.65, 46.6],
  [4.78, 44.1],
  [4.98, 47.2],
  [5.43, 44.9],
  [5.46, 75.4],
  [5.78, 69.0],
  [6.28, 35.5],
  [8.02, 30.8],
  [0.8, 27.0, 20.5],
  [1.0, 23.4],
  [1.25, 20.1, 16.8],
  [1.5, 22.3, 18.0],
  [1.7, 13.8, 16.5],
  [1.85, 20.6, 14.4],
  [2.02, 21.4, 18.2],
  [2.15, 23.6],
  [2.35, 20.0],
  [2.52, 22.8],
  [2.7, 24.1],
  [2.85, 25.3],
  [3.05, 27.2],
  [3.25, 33.0, 29.7],
  [3.45, 35.5],
  [3.6, 37.2],
  [3.95, 43.8, 46.0],
  [4.15, 47.6],
  [4.35, 47.9, 44.6],
  [4.58, 47.4, 44.5],
  [4.7, 45.8]
];

// ---- Fractional polynomial, log ----
const fpLogPlus = [
  [0, 27.9, 26.3, 24.7, 23.1, 21.7],
  [0.69, 29.6, 27.8, 26.0, 24.2, 22.4, 20.6],
  [1.1, 30.4, 28.5, 26.6, 24.7, 22.8, 20.9],
  [1.39, 31.2, 29.2, 27.2, 25.2, 23.2, 21.2],
  [1.61, 29.9, 27.9, 25.9, 23.9, 21.9],
  [1.79, 31.7, 29.6, 27.5, 25.4, 23.3, 21.2],
  [1.95, 32.4, 30.2, 28.1, 26.0, 23.9, 21.8],
  [2.08, 30.9, 28.8, 26.7, 24.6, 22.5],
  [2.2, 33.1, 31.0, 28.9, 26.8, 24.7, 22.6],
  [2.3, 31.6, 29.5, 27.4, 25.3, 23.2],
  [2.4, 32.8, 30.7, 28.6, 26.5, 24.4, 22.3],
  [2.48, 31.3, 29.2, 27.1, 25.0, 22.9],
  [2.56, 33.0, 30.9, 28.8, 26.7, 24.6],
  [2.64, 31.8, 29.7, 27.6, 25.5, 23.4],
  [2.71, 32.6, 30.5, 28.4, 26.3, 24.2],
  [2.77, 31.0, 28.9, 26.8, 24.7],
  [2.83, 32.2, 30.1, 28.0, 25.9, 23.8],
  [2.89, 30.7, 28.6, 26.5, 24.4],
  [2.94, 31.9, 29.8, 27.7, 25.6],
  [3.0, 30.3, 28.2, 26.1, 24.0],
  [3.09, 31.4, 29.3, 27.2, 25.1, 23.0],
  [3.18, 29.9, 27.8, 25.7, 23.6],
  [3.26, 30.8, 28.7, 26.6, 24.5],
  [3.35, 29.5, 27.4, 25.3, 23.2],
  [3.43, 30.4, 28.3, 26.2, 24.1],
  [3.51, 29.1, 27.0, 24.9, 22.8],
  [3.58, 30.0, 27.9, 25.8, 23.7],
  [3.66, 28.8, 26.7, 24.6, 22.5],
  [3.74, 29.6, 27.5, 25.4, 23.3],
  [3.83, 28.4, 26.3, 24.2],
  [3.91, 29.2, 27.1, 25.0, 22.9],
  [4.0, 28.9, 26.8, 24.7, 22.6],
  [4.09, 28.1, 26.0, 23.9],
  [4.18, 27.6, 25.5, 23.4],
  [4.3, 28.3, 26.2, 24.1, 22.0],
  [4.41, 27.2, 25.1, 23.0, 20.9],
  [4.52, 28.6, 26.5, 24.4, 22.3],
  [4.62, 27.4, 25.3, 23.2, 21.1],
  [4.74, 28.1, 26.0, 23.9, 21.8],
  [4.86, 26.8, 24.7, 22.6, 20.5],
  [4.9, 30.1],
  [4.98, 27.5, 25.4, 23.3, 21.2],
  [5.1, 26.3, 24.2, 22.1, 20.0],
  [5.22, 27.0, 24.9, 22.8, 20.7],
  [5.35, 25.8, 23.7, 21.6, 19.5],
  [5.42, 35.9],
  [5.46, 26.4, 24.3, 22.2],
  [5.58, 25.2, 23.1, 21.0, 18.9],
  [5.7, 27.8, 24.6, 22.5, 20.4],
  [5.82, 23.9, 21.8, 19.7],
  [5.95, 29.0, 25.1, 23.0, 20.9, 18.8],
  [6.07, 22.4, 20.3, 18.2],
  [6.14, 37.0],
  [6.2, 23.6, 21.5, 19.4, 17.3],
  [6.33, 22.0, 19.9, 17.8],
  [6.38, 93.6],
  [6.46, 20.6, 18.5, 16.4],
  [6.53, 12.7],
  [6.6, 21.3, 19.2, 17.1],
  [6.71, 32.1],
  [6.74, 19.8, 17.7, 15.6],
  [6.77, 41.0],
  [6.88, 18.4, 16.3],
  [6.99, 56.8],
  [7.02, 17.0, 14.9],
  [7.15, 18.9, 15.8],
  [7.25, 27.6],
  [7.3, 14.4],
  [7.49, 63.6],
  [7.51, 10.4],
  [7.82, 26.2],
  [7.9, 13.2],
  [8.14, 10.4],
  [8.24, 17.2],
  [8.39, 55.9],
  [8.43, 16.3],
  [8.99, 96.1],
  [9.02, 3.8],
  [9.15, 3.8],
  [9.31, 36.6],
  [10.17, 6.1],
  [10.3, 73.5],
  [10.48, 3.8],
  [0.8, 28.8, 27.0, 25.2, 23.4, 21.6],
  [0.95, 30.0, 28.1, 26.2, 24.3, 22.4, 20.5],
  [1.25, 30.8, 28.9, 26.9, 24.9, 22.9, 20.9],
  [1.5, 30.5, 28.5, 26.5, 24.5, 22.5, 20.5],
  [1.7, 32.0, 30.0, 27.9, 25.8, 23.7, 21.6],
  [1.87, 31.0, 28.9, 26.8, 24.7, 22.6, 20.5],
  [2.02, 32.6, 30.5, 28.4, 26.3, 24.2, 22.1],
  [2.14, 31.9, 29.8, 27.7, 25.6, 23.5, 21.4],
  [2.25, 32.4, 30.3, 28.2, 26.1, 24.0, 21.9],
  [2.35, 33.4, 31.3, 29.2, 27.1, 25.0, 22.9],
  [2.44, 31.7, 29.6, 27.5, 25.4, 23.3, 21.2],
  [2.52, 32.5, 30.4, 28.3, 26.2, 24.1, 22.0],
  [2.6, 31.4, 29.3, 27.2, 25.1, 23.0],
  [2.67, 33.2, 31.1, 29.0, 26.9, 24.8, 22.7],
  [2.74, 31.5, 29.4, 27.3, 25.2, 23.1],
  [2.8, 32.8, 30.7, 28.6, 26.5, 24.4, 22.3],
  [2.86, 31.2, 29.1, 27.0, 24.9, 22.8],
  [2.91, 32.4, 30.3, 28.2, 26.1, 24.0],
  [2.97, 30.9, 28.8, 26.7, 24.6, 22.5],
  [3.04, 31.8, 29.7, 27.6, 25.5, 23.4],
  [3.13, 30.6, 28.5, 26.4, 24.3, 22.2],
  [3.22, 31.2, 29.1, 27.0, 24.9, 22.8],
  [3.3, 30.1, 28.0, 25.9, 23.8],
  [3.39, 30.9, 28.8, 26.7, 24.6, 22.5],
  [3.47, 29.7, 27.6, 25.5, 23.4],
  [3.55, 30.4, 28.3, 26.2, 24.1, 22.0],
  [3.62, 29.4, 27.3, 25.2, 23.1],
  [3.7, 30.2, 28.1, 26.0, 23.9, 21.8],
  [3.79, 29.0, 26.9, 24.8, 22.7],
  [3.87, 29.8, 27.7, 25.6, 23.5],
  [3.95, 28.6, 26.5, 24.4, 22.3],
  [4.04, 29.4, 27.3, 25.2, 23.1],
  [4.14, 28.5, 26.4, 24.3, 22.2],
  [4.25, 29.0, 26.9, 24.8, 22.7, 20.6],
  [4.35, 27.8, 25.7, 23.6, 21.5],
  [4.46, 28.7, 26.6, 24.5, 22.4],
  [4.57, 27.6, 25.5, 23.4, 21.3],
  [4.68, 28.3, 26.2, 24.1, 22.0, 19.9],
  [4.8, 27.2, 25.1, 23.0, 20.9],
  [4.92, 28.0, 25.9, 23.8, 21.7],
  [5.04, 26.8, 24.7, 22.6, 20.5, 18.8],
  [5.16, 27.4, 25.3, 23.2, 21.1],
  [5.28, 26.2, 24.1, 22.0, 19.9],
  [5.4, 26.9, 24.8, 22.7, 20.6, 18.5],
  [5.52, 25.7, 23.6, 21.5, 19.4],
  [5.64, 26.3, 24.2, 22.1, 20.0],
  [5.76, 25.0, 22.9, 20.8, 18.7],
  [5.88, 24.6, 22.5, 20.4, 18.3],
  [6.01, 24.0, 21.9, 19.8, 17.7],
  [6.13, 23.2, 21.1, 19.0, 16.9],
  [6.26, 22.6, 20.5, 18.4, 16.3],
  [6.39, 21.6, 19.5, 17.4],
  [6.52, 20.9, 18.8, 16.7, 14.6],
  [6.66, 20.2, 18.1, 16.0],
  [6.8, 19.3, 17.2, 15.1],
  [6.95, 18.0, 15.9, 13.8]
];
const fpLogCirc = [
  [0, 32.5, 31.1, 29.8, 28.5],
  [0.69, 25.1, 21.3],
  [1.1, 27.2, 19.4],
  [1.37, 13.8],
  [1.39, 18.6],
  [1.61, 20.5, 16.6],
  [1.77, 11.0],
  [1.79, 14.9],
  [1.95, 17.9, 13.3],
  [2.08, 19.2, 15.6],
  [2.2, 18.1],
  [2.29, 12.7],
  [2.3, 16.2],
  [2.35, 10.4],
  [2.4, 19.8, 14.4],
  [2.48, 17.2],
  [2.56, 21.1],
  [2.64, 19.5],
  [2.71, 16.8],
  [2.77, 20.4],
  [2.89, 18.5],
  [2.94, 13.3],
  [3.0, 21.6],
  [3.18, 20.7],
  [3.35, 21.9],
  [3.51, 23.5],
  [3.66, 30.6],
  [3.83, 31.8],
  [4.0, 30.9],
  [4.18, 31.3],
  [4.3, 29.4],
  [4.52, 31.2],
  [4.74, 32.7],
  [4.86, 33.3],
  [4.9, 34.2],
  [5.1, 31.4],
  [5.22, 33.9],
  [5.35, 35.5, 34.4],
  [5.46, 54.2],
  [5.49, 31.9],
  [5.75, 52.8],
  [6.27, 27.6],
  [8.04, 23.8],
  [0.85, 23.3, 19.7],
  [1.2, 22.2, 17.6],
  [1.5, 18.4, 15.2],
  [1.65, 12.2],
  [1.85, 19.6, 12.9],
  [2.0, 15.4, 10.9],
  [2.15, 20.9, 13.9],
  [2.45, 16.0, 11.9],
  [2.6, 18.0],
  [2.8, 14.9],
  [3.1, 19.0],
  [3.45, 22.9],
  [3.75, 29.9],
  [4.05, 32.2],
  [4.4, 30.7],
  [4.65, 33.4],
  [5.0, 33.0]
];

// ---- New parameterisation, beta ----
const betaPlus = [
  [0, 46.6, 45.1, 43.6, 42.1, 40.6, 39.1, 37.6],
  [0.69, 45.6, 44.0, 42.4, 40.8, 39.2],
  [1.1, 46.2, 44.5, 42.8, 41.1, 39.4],
  [1.22, 47.4],
  [1.39, 45.3, 43.6, 41.9, 40.2],
  [1.61, 45.9, 44.2, 42.5, 40.8, 39.1],
  [1.79, 46.5, 44.7, 42.9, 41.2],
  [1.95, 45.1, 43.4, 41.7, 40.0],
  [2.08, 46.0, 44.3, 42.6, 40.9, 39.2],
  [2.2, 45.4, 43.7, 42.0, 40.3],
  [2.3, 46.8, 45.0, 43.3, 41.6, 39.9],
  [2.4, 45.7, 44.0, 42.3, 40.6],
  [2.48, 46.3, 44.6, 42.9, 41.2, 39.5],
  [2.56, 45.2, 43.5, 41.8, 40.1],
  [2.64, 46.6, 44.9, 43.2, 41.5],
  [2.71, 45.5, 43.8, 42.1, 40.4],
  [2.77, 46.1, 44.4, 42.7, 41.0],
  [2.83, 45.0, 43.3, 41.6, 39.9],
  [2.89, 46.4, 44.7, 43.0, 41.3],
  [2.94, 45.3, 43.6, 41.9, 40.2],
  [3.0, 46.9, 45.2, 43.5, 41.8, 40.1],
  [3.09, 45.6, 43.9, 42.2, 40.5],
  [3.18, 46.2, 44.5, 42.8, 41.1],
  [3.26, 45.1, 43.4, 41.7, 40.0],
  [3.35, 46.5, 44.8, 43.1, 41.4],
  [3.43, 45.4, 43.7, 42.0, 40.3],
  [3.51, 46.7, 45.0, 43.3, 41.6],
  [3.58, 45.8, 44.1, 42.4, 40.7],
  [3.66, 47.1, 45.3, 43.6, 41.9, 40.2],
  [3.74, 46.0, 44.3, 42.6, 40.9],
  [3.83, 47.5, 45.6, 43.9, 42.2, 40.5],
  [3.91, 46.3, 44.6, 42.9, 41.2],
  [4.0, 47.8, 46.0, 44.2, 42.4, 40.6, 38.8],
  [4.09, 46.9, 45.1, 43.3, 41.5, 39.7],
  [4.2, 48.4, 46.5, 44.6, 42.7, 40.8, 38.9],
  [4.31, 47.3, 45.4, 43.5, 41.6, 39.7, 37.8],
  [4.41, 48.9, 47.0, 45.1, 43.2, 41.3, 39.4],
  [4.52, 47.6, 45.7, 43.8, 41.9, 40.0, 38.1, 36.2],
  [4.62, 48.5, 46.6, 44.7, 42.8, 40.9, 39.0],
  [4.7, 55.0, 51.3],
  [4.74, 47.2, 45.3, 43.4, 41.5, 39.6, 37.7, 35.8],
  [4.86, 48.1, 46.2, 44.3, 42.4, 40.5, 38.6],
  [4.98, 46.8, 44.9, 43.0, 41.1, 39.2, 37.3],
  [5.1, 47.4, 45.5, 43.6, 41.7, 39.8, 37.9, 36.0],
  [5.22, 46.1, 44.2, 42.3, 40.4, 38.5, 36.6],
  [5.29, 58.1],
  [5.35, 45.3, 43.4, 41.5, 39.6, 37.7, 35.8],
  [5.43, 56.8],
  [5.47, 44.6, 42.7, 40.8, 38.9, 37.0, 35.1],
  [5.59, 44.0, 42.1, 40.2, 38.3, 36.4, 34.6],
  [5.7, 44.8, 42.9, 41.0, 39.1, 37.2, 35.3],
  [5.82, 45.6, 43.7, 41.8, 39.9, 37.9, 36.0],
  [5.95, 46.3, 44.4, 42.5, 40.6, 38.7],
  [6.07, 47.1, 45.2, 43.3, 41.4, 39.5],
  [6.2, 46.5, 44.6, 42.7, 40.8],
  [6.33, 48.0, 46.1, 44.2, 42.3, 40.4],
  [6.46, 47.4, 45.5, 43.6, 41.7],
  [6.58, 49.1, 47.2, 45.3, 43.4],
  [6.67, 31.7],
  [6.7, 50.3, 48.4, 46.5, 44.6],
  [6.76, 34.7],
  [6.83, 51.2, 49.3, 47.4],
  [6.96, 52.6, 50.5, 48.4],
  [7.0, 25.1],
  [7.09, 53.5, 51.4, 49.3],
  [7.13, 54.5],
  [7.32, 38.9],
  [7.39, 52.8],
  [7.49, 3.6],
  [7.78, 43.2],
  [7.91, 52.0],
  [8.15, 53.4],
  [8.24, 46.6],
  [8.43, 47.7, 35.1],
  [8.96, 30.2],
  [9.02, 53.4],
  [9.19, 54.5],
  [9.32, 44.3],
  [10.13, 51.2],
  [10.26, 42.3],
  [10.46, 51.8],
  [0.8, 46.2, 44.6, 43.0, 41.4, 39.8],
  [0.95, 45.0, 43.3, 41.6, 39.9],
  [1.25, 45.8, 44.1, 42.4, 40.7, 39.0],
  [1.5, 46.6, 44.9, 43.2, 41.5, 39.8],
  [1.7, 45.3, 43.6, 41.9, 40.2],
  [1.87, 46.2, 44.5, 42.8, 41.1, 39.4],
  [2.02, 45.6, 43.9, 42.2, 40.5],
  [2.14, 46.6, 44.9, 43.2, 41.5, 39.8],
  [2.25, 45.9, 44.2, 42.5, 40.8],
  [2.35, 46.2, 44.5, 42.8, 41.1, 39.4],
  [2.44, 46.9, 45.2, 43.5, 41.8],
  [2.52, 45.8, 44.1, 42.4, 40.7],
  [2.6, 46.5, 44.8, 43.1, 41.4, 39.7],
  [2.67, 45.4, 43.7, 42.0, 40.3],
  [2.74, 46.6, 44.9, 43.2, 41.5],
  [2.8, 45.7, 44.0, 42.3, 40.6],
  [2.86, 46.8, 45.1, 43.4, 41.7],
  [2.91, 45.6, 43.9, 42.2, 40.5],
  [2.97, 46.3, 44.6, 42.9, 41.2],
  [3.04, 45.8, 44.1, 42.4, 40.7],
  [3.13, 46.8, 45.1, 43.4, 41.7],
  [3.22, 45.6, 43.9, 42.2, 40.5],
  [3.3, 46.9, 45.2, 43.5, 41.8],
  [3.39, 45.9, 44.2, 42.5, 40.8],
  [3.47, 46.3, 44.6, 42.9, 41.2],
  [3.55, 47.0, 45.3, 43.6, 41.9, 40.2],
  [3.62, 46.4, 44.7, 43.0, 41.3],
  [3.7, 47.3, 45.6, 43.9, 42.2, 40.5],
  [3.79, 46.6, 44.9, 43.2, 41.5],
  [3.87, 47.6, 45.9, 44.2, 42.5, 40.8],
  [3.95, 47.0, 45.3, 43.6, 41.9, 40.2],
  [4.04, 48.3, 46.5, 44.7, 42.9, 41.1, 39.3],
  [4.14, 47.6, 45.8, 44.0, 42.2, 40.4, 38.6],
  [4.25, 48.8, 47.0, 45.2, 43.4, 41.6, 39.8, 38.0],
  [4.35, 48.2, 46.3, 44.4, 42.5, 40.6, 38.7],
  [4.46, 49.5, 47.6, 45.7, 43.8, 41.9, 40.0, 38.1],
  [4.57, 48.9, 47.0, 45.1, 43.2, 41.3, 39.4, 37.5],
  [4.68, 49.8, 47.9, 46.0, 44.1, 42.2, 40.3, 38.4, 36.5],
  [4.8, 48.7, 46.8, 44.9, 43.0, 41.1, 39.2, 37.3],
  [4.92, 49.3, 47.4, 45.5, 43.6, 41.7, 39.8, 37.9, 36.0],
  [5.04, 48.0, 46.1, 44.2, 42.3, 40.4, 38.5, 36.6],
  [5.16, 48.6, 46.7, 44.8, 42.9, 41.0, 39.1, 37.2, 35.3],
  [5.28, 47.0, 45.1, 43.2, 41.3, 39.4, 37.5, 35.6],
  [5.4, 46.4, 44.5, 42.6, 40.7, 38.8, 36.9, 35.0],
  [5.53, 45.4, 43.5, 41.6, 39.7, 37.8, 35.9, 34.2],
  [5.65, 45.9, 44.0, 42.1, 40.2, 38.3, 36.4],
  [5.76, 44.5, 42.6, 40.7, 38.8, 36.9, 35.0],
  [5.88, 45.9, 44.0, 42.1, 40.2, 38.3],
  [6.01, 46.7, 44.8, 42.9, 41.0, 39.1],
  [6.13, 47.6, 45.7, 43.8, 41.9, 40.0],
  [6.26, 47.2, 45.3, 43.4, 41.5],
  [6.39, 48.6, 46.7, 44.8, 42.9],
  [6.52, 48.1, 46.2, 44.3, 42.4],
  [6.64, 49.6, 47.7, 45.8],
  [6.77, 50.8, 48.9, 47.0, 45.1],
  [6.9, 52.0, 50.0, 48.0],
  [7.02, 53.0, 50.9, 48.8]
];
const betaCirc = [
  [0, 44.2, 40.1, 38.3],
  [0.69, 43.1, 39.6],
  [1.1, 41.7],
  [1.39, 37.3, 35.4],
  [1.61, 36.6],
  [1.79, 38.1, 36.0],
  [1.95, 37.9],
  [2.08, 35.9],
  [2.2, 37.2],
  [2.3, 36.4],
  [2.4, 38.4],
  [2.48, 37.1],
  [2.56, 38.9],
  [2.64, 36.8],
  [2.71, 39.3],
  [2.83, 38.2],
  [2.94, 39.8],
  [3.0, 37.4],
  [3.18, 39.4],
  [3.43, 39.0],
  [3.74, 48.3],
  [3.86, 50.6],
  [3.91, 49.9],
  [4.0, 50.4],
  [4.2, 51.1],
  [4.25, 52.8],
  [4.31, 52.8],
  [4.41, 50.8],
  [4.58, 60.4],
  [4.62, 66.1],
  [4.9, 51.1],
  [5.49, 96.1, 54.5],
  [5.79, 70.3],
  [8.04, 43.4],
  [0.85, 41.2],
  [1.25, 38.8, 36.8],
  [1.5, 37.9],
  [1.7, 35.6],
  [2.0, 36.8],
  [2.35, 37.7],
  [2.6, 36.1],
  [2.9, 37.0],
  [3.3, 38.1],
  [3.6, 39.4],
  [3.95, 48.8],
  [4.1, 50.1],
  [4.5, 49.6],
  [4.75, 50.4],
  [5.05, 49.9]
];

// ---- layout ----
const boxW = 291, boxH = 295.4;
const colLeft = [43.5, 415.3, 787.8];
const rowTop = [6, 424.2];

const panels = [
  { name: panelNames[0], plus: refPlus,   circ: refCirc,   row: 0, col: 0, titleY: 26.3, note: null },
  { name: panelNames[1], plus: fpInvPlus, circ: fpInvCirc, row: 0, col: 1, titleY: 28.5, note: { kind: "formula", text: "((x + 1)/100)", sup: "\u22121", y: 55.7 } },
  { name: panelNames[2], plus: phiPlus,   circ: phiCirc,   row: 0, col: 2, titleY: 21.3, note: { kind: "greek", text: "\u03C6", y: 46, size: 21, italic: true, dx: 4 } },
  { name: panelNames[3], plus: logPlus,   circ: logCirc,   row: 1, col: 0, titleY: 22.8, note: null },
  { name: panelNames[4], plus: fpLogPlus, circ: fpLogCirc, row: 1, col: 1, titleY: 24.0, note: { kind: "formula", text: "log((x + 1)/100)", y: 48.0 } },
  { name: panelNames[5], plus: betaPlus,  circ: betaCirc,  row: 1, col: 2, titleY: 20.0, note: { kind: "greek", text: "\u03B2", y: 44.5, size: 19, italic: false, dx: 6 } }
];

const expand = rows => rows.flatMap(r => r.slice(1).map(v => ({ x: r[0], y: v })));

const x = d3.scaleLinear().domain([-0.45, 10.96]).range([0, boxW]);
const y = d3.scaleLinear().domain([0, 100]).range([boxH, 0]);

const svg = d3.select("#chart");
const PLUS = 5.3, R = 3.8;

panels.forEach(p => {
  const g = svg.append("g")
    .attr("transform", `translate(${colLeft[p.col]},${rowTop[p.row]})`);

  // circles (censored)
  g.append("g").selectAll("circle")
    .data(expand(p.circ))
    .join("circle")
    .attr("cx", d => x(d.x))
    .attr("cy", d => y(d.y))
    .attr("r", R)
    .attr("fill", "none")
    .attr("stroke", "#000")
    .attr("stroke-width", 1.45);

  // plus signs (events)
  g.append("g").selectAll("path")
    .data(expand(p.plus))
    .join("path")
    .attr("d", d => {
      const cx = x(d.x), cy = y(d.y);
      return `M${cx - PLUS},${cy}H${cx + PLUS}M${cx},${cy - PLUS}V${cy + PLUS}`;
    })
    .attr("fill", "none")
    .attr("stroke", "#000")
    .attr("stroke-width", 1.6);

  // frame
  g.append("rect")
    .attr("width", boxW).attr("height", boxH)
    .attr("fill", "none").attr("stroke", "#000").attr("stroke-width", 1.4);

  // x axis
  const ax = g.append("g")
    .attr("transform", `translate(0,${boxH})`)
    .call(d3.axisBottom(x).tickValues(xTicks).tickSize(10).tickPadding(15).tickFormat(d3.format("d")));
  ax.select(".domain").remove();
  ax.attr("font-family", null).attr("font-size", null);
  ax.selectAll(".tick line").attr("stroke", "#000").attr("stroke-width", 1.3);
  ax.selectAll(".tick text").attr("fill", "#000").style("font-size", "16.3px");

  // axis titles
  g.append("text")
    .attr("x", boxW / 2).attr("y", boxH + 70.5)
    .attr("text-anchor", "middle")
    .style("font-size", "20.4px")
    .text(xLabel);
  g.append("text")
    .attr("transform", `translate(-16.2,${boxH / 2}) rotate(-90)`)
    .attr("text-anchor", "middle")
    .style("font-size", "20.4px")
    .text(yLabel);

  // panel title
  g.append("text")
    .attr("x", 16.5).attr("y", p.titleY)
    .style("font-size", "17.6px")
    .text(p.name);

  if (p.note) {
    const n = p.note;
    if (n.kind === "formula") {
      const t = g.append("text").attr("x", 16.5).attr("y", n.y)
        .style("font-size", "17.6px").style("letter-spacing", "0.5px");
      t.append("tspan").text(n.text);
      if (n.sup) t.append("tspan").attr("dy", -8).style("font-size", "12px").style("letter-spacing", "0px").text(n.sup);
    } else {
      g.append("text")
        .attr("x", 16.5 + n.dx).attr("y", n.y)
        .style("font-family", "'DejaVu Serif', 'Liberation Serif', serif")
        .style("font-style", n.italic ? "italic" : "normal")
        .style("font-size", n.size + "px")
        .text(n.text);
    }
  }
});
</script>
</body>
</html>
